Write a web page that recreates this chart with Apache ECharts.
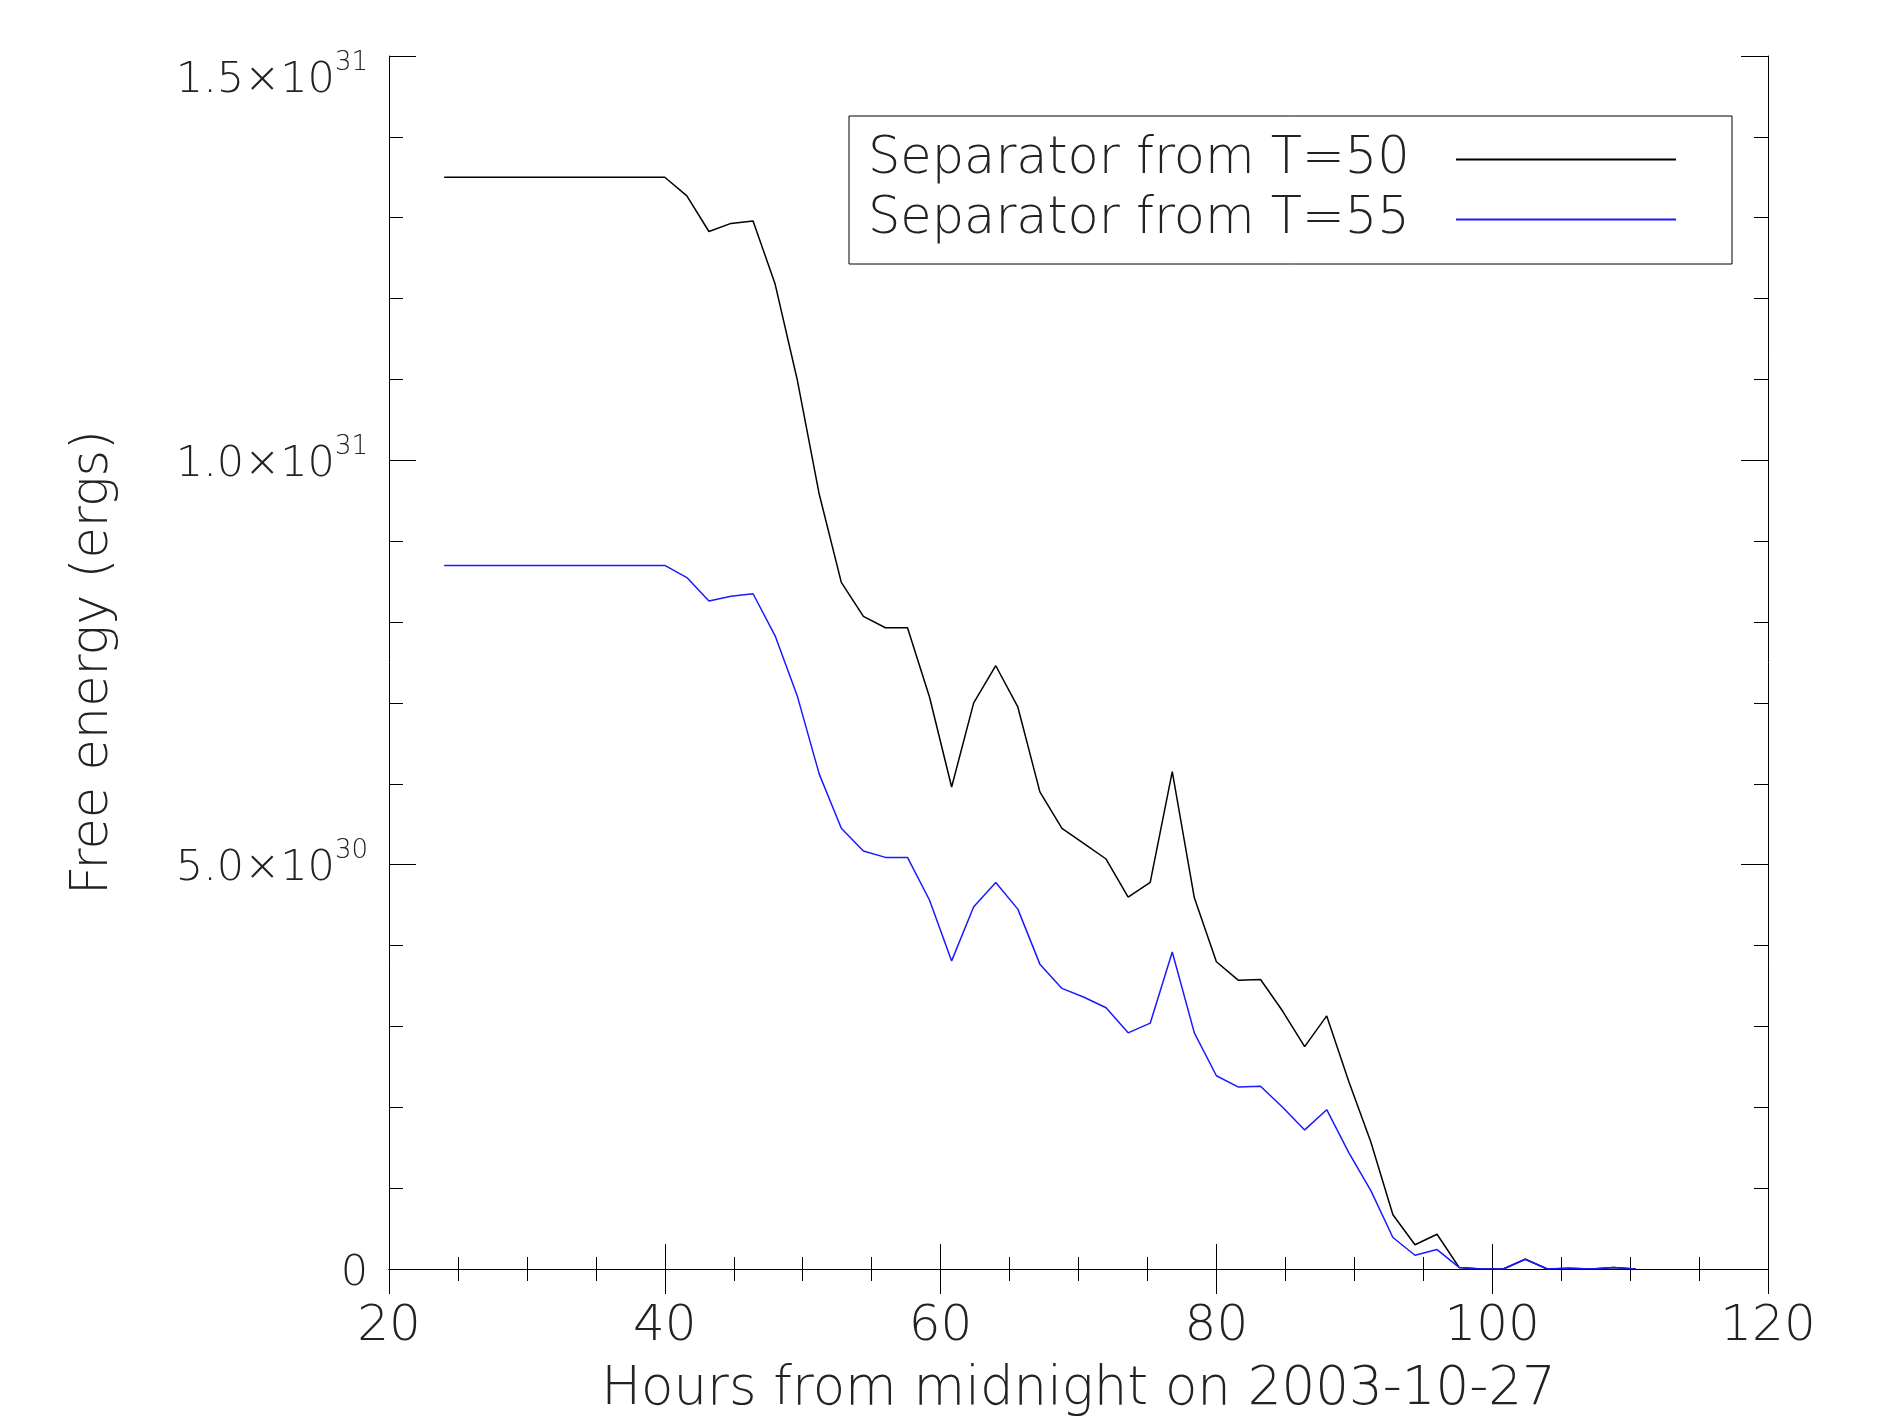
<!DOCTYPE html>
<html>
<head>
<meta charset="utf-8">
<script src="https://cdn.jsdelivr.net/npm/echarts@6/dist/echarts.min.js"></script>
<style>
  html, body { margin: 0; padding: 0; background: #fff; }
  #container { width: 1899px; height: 1422px; }
</style>
</head>
<body>
<div id="container"></div>
<script>
// hours from midnight on 2003-10-27
const hours = [24.0, 25.6, 27.2, 28.8, 30.4, 32.0, 33.6, 35.2, 36.8, 38.4, 40.0,
  41.6, 43.2, 44.8, 46.4, 48.0, 49.6, 51.2, 52.8, 54.4, 56.0, 57.6, 59.2, 60.8,
  62.4, 64.0, 65.6, 67.2, 68.8, 70.4, 72.0, 73.6, 75.2, 76.8, 78.4, 80.0, 81.6,
  83.2, 84.8, 86.4, 88.0, 89.6, 91.2, 92.8, 94.4, 96.0, 97.6, 99.2, 100.8, 102.4,
  104.0, 105.6, 107.2, 108.8, 110.4];

// free energy, in units of 1e30 ergs
const separatorT50 = [13.50, 13.50, 13.50, 13.50, 13.50, 13.50, 13.50, 13.50, 13.50, 13.50, 13.50,
  13.27, 12.83, 12.93, 12.96, 12.18, 11.00, 9.58, 8.49, 8.07, 7.93, 7.93, 7.07, 5.96,
  7.00, 7.46, 6.95, 5.90, 5.45, 5.26, 5.07, 4.60, 4.78, 6.15, 4.59, 3.80, 3.57,
  3.58, 3.19, 2.75, 3.13, 2.32, 1.57, 0.67, 0.30, 0.43, 0.02, 0.0, 0.0, 0.12,
  0.0, 0.01, 0.0, 0.02, 0.0];

const separatorT55 = [8.70, 8.70, 8.70, 8.70, 8.70, 8.70, 8.70, 8.70, 8.70, 8.70, 8.70,
  8.55, 8.26, 8.32, 8.35, 7.83, 7.09, 6.12, 5.45, 5.17, 5.09, 5.09, 4.56, 3.81,
  4.48, 4.78, 4.45, 3.77, 3.47, 3.36, 3.23, 2.92, 3.04, 3.92, 2.92, 2.39, 2.25,
  2.26, 2.00, 1.72, 1.97, 1.44, 0.97, 0.39, 0.17, 0.24, 0.02, 0.0, 0.0, 0.12,
  0.0, 0.01, 0.0, 0.02, 0.0];

const seriesNames = ['Separator from T=50', 'Separator from T=55'];
const yTickLabels = { 0: '{b|0}', 5: '{b|5.0×10}{s|30}', 10: '{b|1.0×10}{s|31}', 15: '{gap|}\n{b|1.5×10}{s|31}' };

const font = '"DejaVu Sans", sans-serif';
const ink = '#222';

const pair = (xs, ys) => xs.map((x, i) => [x, ys[i]]);

const xAxisBase = {
  type: 'value', min: 20, max: 120, interval: 20,
  axisLine: { show: true, lineStyle: { color: '#000', width: 1 } },
  axisTick: { show: true, inside: true, length: 25, lineStyle: { color: '#000' } },
  minorTick: { show: true, splitNumber: 4, length: 12, lineStyle: { color: '#000' } },
  splitLine: { show: false },
  minorSplitLine: { show: false }
};

const yAxisBase = {
  type: 'value', min: 0, max: 15, interval: 5,
  axisLine: { show: true, lineStyle: { color: '#000', width: 1 } },
  axisTick: { show: true, inside: true, length: 27, lineStyle: { color: '#000' } },
  minorTick: { show: true, splitNumber: 5, length: 14, lineStyle: { color: '#000' } },
  splitLine: { show: false },
  minorSplitLine: { show: false }
};

const chart = echarts.init(document.getElementById('container'));

chart.setOption({
  animation: false,
  backgroundColor: '#fff',
  grid: { left: 389, right: 131, top: 56, bottom: 150, containLabel: false },
  legend: {
    orient: 'vertical',
    align: 'right',
    left: 849,
    top: 116,
    padding: [18, 56, 19, 19],
    icon: 'rect',
    itemWidth: 220,
    itemHeight: 2,
    itemGap: 9,
    borderColor: '#000',
    borderWidth: 1,
    formatter: (name) => '{t|' + name + '}',
    textStyle: {
      rich: {
        t: { fontFamily: font, fontSize: 51, fontWeight: 200, color: ink, width: 583, lineHeight: 50, align: 'left' }
      }
    },
    data: seriesNames
  },
  xAxis: [
    Object.assign({}, xAxisBase, {
      position: 'bottom',
      name: 'Hours from midnight on 2003-10-27',
      nameLocation: 'middle',
      nameGap: 95,
      nameTextStyle: { fontFamily: font, fontSize: 53, fontWeight: 200, color: ink },
      axisLabel: { margin: 33, fontFamily: font, fontSize: 50, fontWeight: 200, color: ink }
    }),
    Object.assign({}, xAxisBase, { position: 'top', axisLabel: { show: false } })
  ],
  yAxis: [
    Object.assign({}, yAxisBase, {
      position: 'left',
      name: 'Free energy (ergs)',
      nameLocation: 'middle',
      nameGap: 270,
      nameTextStyle: { fontFamily: font, fontSize: 51, fontWeight: 200, color: ink },
      axisLabel: {
        margin: 21,
        formatter: (v) => yTickLabels[v] || '',
        rich: {
          b: { fontFamily: font, fontSize: 43, fontWeight: 200, color: ink, lineHeight: 52, verticalAlign: 'bottom' },
          s: { fontFamily: font, fontSize: 26, fontWeight: 200, color: ink, lineHeight: 26, verticalAlign: 'top' },
          gap: { height: 40, lineHeight: 40 }
        }
      }
    }),
    Object.assign({}, yAxisBase, { position: 'right', axisLabel: { show: false } })
  ],
  series: [
    {
      name: seriesNames[0],
      type: 'line',
      xAxisIndex: 0,
      yAxisIndex: 0,
      symbol: 'none',
      lineStyle: { color: '#000', width: 1.5 },
      itemStyle: { color: '#000' },
      data: pair(hours, separatorT50)
    },
    {
      name: seriesNames[1],
      type: 'line',
      xAxisIndex: 0,
      yAxisIndex: 0,
      symbol: 'none',
      lineStyle: { color: '#1a1aff', width: 1.5 },
      itemStyle: { color: '#1a1aff' },
      data: pair(hours, separatorT55)
    }
  ]
});
</script>
</body>
</html>
